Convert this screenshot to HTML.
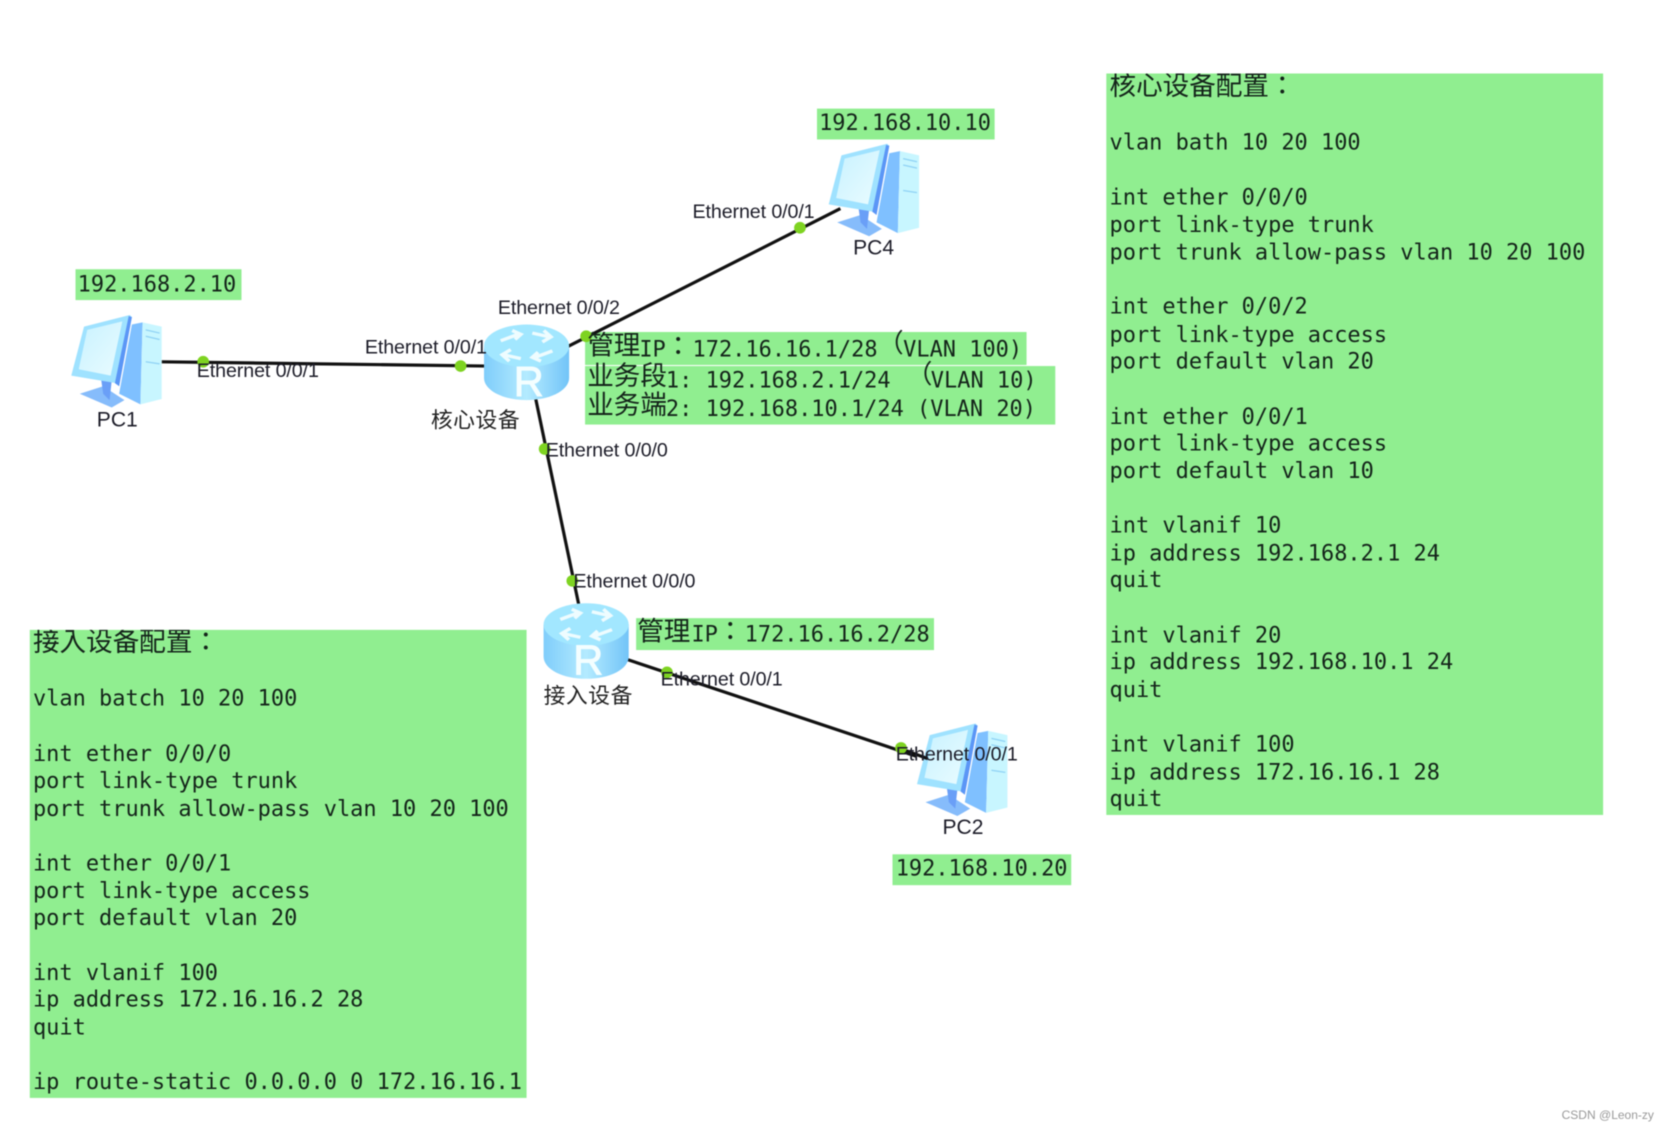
<!DOCTYPE html>
<html>
<head>
<meta charset="utf-8">
<style>
html,body{margin:0;padding:0;background:#fff;width:1668px;height:1131px;overflow:hidden}
svg{display:block;filter:blur(.6px)}
.m{font-family:"DejaVu Sans Mono","Liberation Mono",monospace;font-size:20.65px;fill:#14241a}
.c{font-family:"Noto Sans CJK SC","WenQuanYi Zen Hei",sans-serif;font-size:24.5px;fill:#14241a}
.t{font-family:"Noto Sans CJK TC","Noto Sans CJK SC",sans-serif;font-size:25px;fill:#14241a}
.l{font-family:"Liberation Sans",sans-serif;font-size:18.5px;fill:#1c1c28;letter-spacing:-.1px}
.p{font-family:"Liberation Sans",sans-serif;font-size:19.8px;fill:#1c1c28}
.n{font-family:"Noto Sans CJK SC","WenQuanYi Zen Hei",sans-serif;font-size:20.5px;fill:#222;letter-spacing:.5px}
.g{fill:#90ee90}
.e{stroke:#111;stroke-width:3;fill:none}
.d{fill:#7ed321}
</style>
</head>
<body>
<svg width="1668" height="1131" viewBox="0 0 1568 1063" xmlns="http://www.w3.org/2000/svg">
<defs>
<linearGradient id="rb" x1="0" x2="1" y1="0" y2="0">
<stop offset="0" stop-color="#7fcdfb"/><stop offset=".5" stop-color="#b4ebff"/><stop offset="1" stop-color="#72c4f8"/>
</linearGradient>
<linearGradient id="sc" x1="0" x2="1" y1="0" y2="1">
<stop offset="0" stop-color="#c8f2ff"/><stop offset="1" stop-color="#eafcff"/>
</linearGradient>
<g id="router">
<path d="M0 20 V50 C0 62 18 71 40 71 C62 71 80 62 80 50 V20 Z" fill="url(#rb)"/>
<ellipse cx="40" cy="20" rx="40" ry="20" fill="#a2e7ff"/>
<g stroke="#eefcff" stroke-width="2.6" fill="none" transform="translate(40 20) scale(1.35 1.2) translate(-40 -20)">
<path d="M22 16 L34 11 M30 8 L36 11 L32 15"/>
<path d="M58 24 L46 29 M50 32 L44 29 L48 25"/>
<path d="M44 10 L56 13 M52 8 L57 13 L51 17"/>
<path d="M36 30 L24 27 M28 32 L23 27 L29 23"/>
</g>
<text x="42" y="67" text-anchor="middle" font-family="Liberation Sans,sans-serif" font-size="39" fill="#f4feff" stroke="#f4feff" stroke-width=".9">R</text>
</g>
<g id="pc">
<polygon points="57,9 67,7 65,84 45,74" fill="#7fc0ff"/>
<polygon points="67,7 85,11 85,79 65,84" fill="#c8f6ff"/>
<path d="M70 14 L83 17 M70 20 L83 23 M70 44 L83 46" stroke="#8fd2f5" stroke-width="1.2"/>
<polygon points="8,74 30,67 50,80 38,87" fill="#86bcfb"/>
<polygon points="28,60 38,62 36,80 30,74" fill="#6a9ff7"/>
<polygon points="12,11 55,0 57,2 42,64 0,57" fill="#9fe2ff"/>
<polygon points="54,1 57,2 45,67 41,64" fill="#5b96f6"/>
<polygon points="15,14 48,6 37,57 7,51" fill="url(#sc)"/>
</g>
<clipPath id="cp"><rect x="1040" y="69" width="467" height="697"/></clipPath>
<clipPath id="ap"><rect x="28" y="592" width="467" height="440"/></clipPath>
</defs>

<rect width="1568" height="1063" fill="#fff"/>

<!-- panels -->
<rect class="g" x="1040" y="69" width="467" height="697"/>
<rect class="g" x="28" y="592" width="467" height="440"/>
<rect class="g" x="71" y="253" width="156" height="29"/>
<rect class="g" x="768" y="102" width="167" height="29"/>
<rect class="g" x="839" y="803" width="168" height="29"/>
<rect class="g" x="550" y="312" width="415" height="31"/>
<rect class="g" x="550" y="344" width="442" height="55"/>
<rect class="g" x="598" y="581" width="280" height="30"/>

<!-- links -->
<line class="e" x1="152" y1="340" x2="458" y2="344"/>
<line class="e" x1="533" y1="326" x2="790" y2="196"/>
<line class="e" x1="503" y1="372" x2="544" y2="568"/>
<line class="e" x1="590" y1="620" x2="862" y2="711"/>

<!-- devices -->
<use href="#pc" x="67" y="296"/>
<use href="#pc" x="779" y="135"/>
<use href="#pc" x="862" y="680"/>
<use href="#router" x="455" y="305"/>
<use href="#router" x="511" y="567"/>
<line class="e" x1="845" y1="703" x2="872" y2="713"/>

<!-- dots -->
<circle class="d" cx="191" cy="340" r="5.5"/>
<circle class="d" cx="433" cy="344" r="5.5"/>
<circle class="d" cx="551" cy="316" r="5.5"/>
<circle class="d" cx="752" cy="214" r="5.5"/>
<circle class="d" cx="512" cy="422" r="5.5"/>
<circle class="d" cx="538" cy="546" r="5.5"/>
<circle class="d" cx="627" cy="632" r="5.5"/>
<circle class="d" cx="847" cy="703" r="5.5"/>

<!-- port labels -->
<text class="l" x="185" y="354.5">Ethernet 0/0/1</text>
<text class="l" x="343" y="332">Ethernet 0/0/1</text>
<text class="l" x="468" y="295">Ethernet 0/0/2</text>
<text class="l" x="651" y="205">Ethernet 0/0/1</text>
<text class="l" x="513" y="429">Ethernet 0/0/0</text>
<text class="l" x="539" y="552">Ethernet 0/0/0</text>
<text class="l" x="621" y="644.5">Ethernet 0/0/1</text>
<text class="l" x="842" y="715">Ethernet 0/0/1</text>

<!-- node labels -->
<text class="p" x="91" y="401">PC1</text>
<text class="p" x="802" y="239">PC4</text>
<text class="p" x="886" y="784">PC2</text>
<text class="n" x="405" y="402">核心设备</text>
<text class="n" x="511" y="661">接入设备</text>

<!-- ip boxes -->
<text class="m" x="73" y="274">192.168.2.10</text>
<text class="m" x="770" y="122">192.168.10.10</text>
<text class="m" x="842" y="823">192.168.10.20</text>

<text class="t" x="552" y="333">管理</text>
<text class="m" x="601" y="335">IP</text>
<text class="t" x="625" y="334">：</text>
<text class="m" x="651" y="335">172.16.16.1/28</text>
<text class="c" x="825" y="331">（</text>
<text class="m" x="849" y="335">VLAN 100)</text>

<text class="t" x="552" y="362">业务段</text>
<text class="m" x="626" y="364">1: 192.168.2.1/24</text>
<text class="c" x="852" y="360">（</text>
<text class="m" x="875" y="364">VLAN 10)</text>

<text class="t" x="552" y="389">业务端</text>
<text class="m" x="626" y="391">2: 192.168.10.1/24 (VLAN 20)</text>

<text class="t" x="599" y="602">管理</text>
<text class="m" x="650" y="603">IP</text>
<text class="t" x="674" y="602">：</text>
<text class="m" x="700" y="603">172.16.16.2/28</text>

<!-- core config -->
<g clip-path="url(#cp)"><text class="t" x="1043" y="89">核心设备配置：</text></g>
<text class="m" x="1043" y="140.3">vlan bath 10 20 100</text>
<text class="m" x="1043" y="192.3">int ether 0/0/0</text>
<text class="m" x="1043" y="217.8">port link-type trunk</text>
<text class="m" x="1043" y="243.8">port trunk allow-pass vlan 10 20 100</text>
<text class="m" x="1043" y="294.8">int ether 0/0/2</text>
<text class="m" x="1043" y="321.3">port link-type access</text>
<text class="m" x="1043" y="346.3">port default vlan 20</text>
<text class="m" x="1043" y="398.3">int ether 0/0/1</text>
<text class="m" x="1043" y="423.3">port link-type access</text>
<text class="m" x="1043" y="449.3">port default vlan 10</text>
<text class="m" x="1043" y="500.3">int vlanif 10</text>
<text class="m" x="1043" y="526.8">ip address 192.168.2.1 24</text>
<text class="m" x="1043" y="551.8">quit</text>
<text class="m" x="1043" y="603.8">int vlanif 20</text>
<text class="m" x="1043" y="628.8">ip address 192.168.10.1 24</text>
<text class="m" x="1043" y="655">quit</text>
<text class="m" x="1043" y="706.3">int vlanif 100</text>
<text class="m" x="1043" y="732.5">ip address 172.16.16.1 28</text>
<text class="m" x="1043" y="757.5">quit</text>

<!-- access config -->
<g clip-path="url(#ap)"><text class="t" x="31" y="612">接入设备配置：</text></g>
<text class="m" x="31" y="663.3">vlan batch 10 20 100</text>
<text class="m" x="31" y="715.3">int ether 0/0/0</text>
<text class="m" x="31" y="740.8">port link-type trunk</text>
<text class="m" x="31" y="766.8">port trunk allow-pass vlan 10 20 100</text>
<text class="m" x="31" y="818.3">int ether 0/0/1</text>
<text class="m" x="31" y="844.3">port link-type access</text>
<text class="m" x="31" y="869.3">port default vlan 20</text>
<text class="m" x="31" y="921.3">int vlanif 100</text>
<text class="m" x="31" y="946.3">ip address 172.16.16.2 28</text>
<text class="m" x="31" y="972.3">quit</text>
<text class="m" x="31" y="1023.8">ip route-static 0.0.0.0 0 172.16.16.1</text>

<text x="1468" y="1052" font-family="Liberation Sans,sans-serif" font-size="11.3" fill="#999">CSDN @Leon-zy</text>
</svg>
</body>
</html>
